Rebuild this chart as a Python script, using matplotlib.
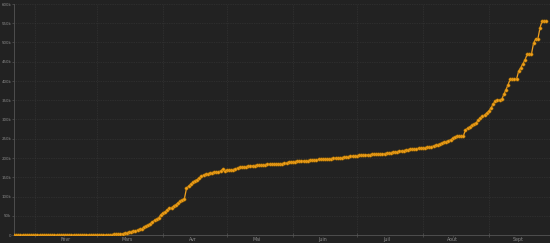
import numpy as np
import pandas as pd
import matplotlib
matplotlib.use('Agg')
import matplotlib.pyplot as plt
import matplotlib.dates as mdates
from matplotlib.ticker import FuncFormatter

# cumulative count, in thousands, one value per day starting 2020-01-22
start_date = '2020-01-22'
jan = [0, 0, 0.002, 0.003, 0.003, 0.003, 0.004, 0.005, 0.005, 0.006]
feb = [0.006, 0.006, 0.006, 0.006, 0.006, 0.006, 0.006, 0.011, 0.011, 0.011,
       0.011, 0.011, 0.011, 0.011, 0.012, 0.012, 0.012, 0.012, 0.012, 0.012,
       0.012, 0.012, 0.012, 0.012, 0.014, 0.018, 0.038, 0.057, 0.100]
mar = [0.13, 0.19, 0.21, 0.29, 0.42, 0.65, 0.95, 1.21, 1.41, 1.78,
       2.29, 2.29, 3.67, 4.48, 4.53, 6.65, 7.70, 9.10, 10.9, 12.6,
       14.3, 16.0, 19.9, 22.6, 25.6, 29.6, 33.4, 38.1, 40.7, 45.2, 52.8]
apr = [57.7, 59.9, 65.2, 69.5, 71.4, 75.0, 79.0, 83.0, 87.4, 91.0,
       94.0, 121.0, 127.0, 132.0, 137.0, 141.0, 144.0, 148.0, 152.0, 156.0,
       157.5, 159.0, 160.0, 161.5, 162.5, 163.5, 164.5, 166.0, 171.0, 167.5]
may = [168.0, 168.5, 169.0, 170.0, 171.5, 174.0, 175.5, 176.5, 177.0, 177.5,
       178.5, 179.5, 180.0, 180.5, 181.0, 181.5, 182.0, 182.5, 183.0, 183.5,
       184.0, 184.3, 184.5, 184.7, 184.9, 185.2, 185.5, 185.8, 186.0, 189.8, 190.2]
jun = [190.5, 190.8, 191.3, 191.6, 192.0, 192.3, 192.7, 193.2, 193.6, 194.2,
       194.9, 195.6, 196.4, 197.0, 197.3, 197.6, 197.9, 198.2, 198.5, 198.8,
       199.1, 199.6, 200.2, 201.0, 201.8, 202.5, 203.3, 204.0, 204.8, 205.4]
jul = [206.0, 206.5, 207.0, 207.6, 208.0, 208.5, 208.9, 209.3, 209.6, 209.8,
       210.1, 210.5, 211.0, 211.6, 212.2, 213.0, 213.8, 214.6, 215.4, 216.3,
       217.2, 218.2, 219.2, 220.2, 221.4, 222.6, 223.2, 223.8, 224.4, 225.0, 225.6]
aug = [226.2, 226.8, 227.4, 228.3, 229.5, 231.0, 232.8, 234.5, 236.3, 238.2,
       240.3, 242.5, 244.8, 247.5, 251.0, 255.0, 256.0, 256.3, 256.6, 257.0,
       273.0, 277.0, 281.0, 284.5, 287.5, 291.0, 298.0, 304.0, 308.0, 312.0, 317.0]
sep = [322, 330, 340, 348, 350, 350, 352, 365, 377, 390,
       405, 405, 405, 405, 426, 435, 445, 455, 470, 470,
       470, 499, 509, 509, 538, 556, 556, 556]

month_labels = ['Févr', 'Mars', 'Avr', 'Mai', 'Juin', 'Juil', 'Août', 'Sept']

cases = np.array(jan + feb + mar + apr + may + jun + jul + aug + sep) * 1000
dates = pd.date_range(start_date, periods=len(cases), freq='D')

bg = '#222222'
fig = plt.figure(figsize=(5.5, 2.43), dpi=100, facecolor=bg)
ax = fig.add_axes([14 / 550, 8 / 243, 536 / 550, 231 / 243], facecolor=bg)

ax.plot(dates, cases, color='#f0a020', lw=0.9, marker='o', markersize=2.3,
        markeredgewidth=0.4, markeredgecolor='#b87800', zorder=3)

ax.set_xlim(dates[0], dates[0] + pd.Timedelta(days=251.7))
ax.set_ylim(0, 600000)

# month starts: ticks + grid, mid-month: labels
ax.xaxis.set_major_locator(mdates.MonthLocator(bymonthday=1))
ax.xaxis.set_major_formatter(plt.NullFormatter())
ax.xaxis.set_minor_locator(mdates.MonthLocator(bymonth=range(2, 10), bymonthday=15))
ax.xaxis.set_minor_formatter(FuncFormatter(lambda x, pos: month_labels[mdates.num2date(x).month - 2]))
ax.tick_params(axis='x', which='major', length=2.5, width=0.5, color='#555555', direction='inout')
ax.tick_params(axis='x', which='minor', length=0, labelsize=3.4, labelcolor='#8a8a8a', pad=1.5)

ax.set_yticks(np.arange(0, 600001, 50000))
ax.yaxis.set_major_formatter(FuncFormatter(lambda v, pos: '0' if v == 0 else '%dk' % (v / 1000)))
ax.tick_params(axis='y', length=1.2, width=0.5, color='#555555', labelsize=2.9, labelcolor='#8a8a8a', pad=0.6)

ax.grid(True, which='major', color='#3a3a3a', lw=0.5, ls=(0, (1, 1.5)))

for s in ['top', 'right']:
    ax.spines[s].set_visible(False)
for s in ['left', 'bottom']:
    ax.spines[s].set_color('#555555')
    ax.spines[s].set_linewidth(0.6)

fig.savefig('out.png', dpi=100, facecolor=bg)
